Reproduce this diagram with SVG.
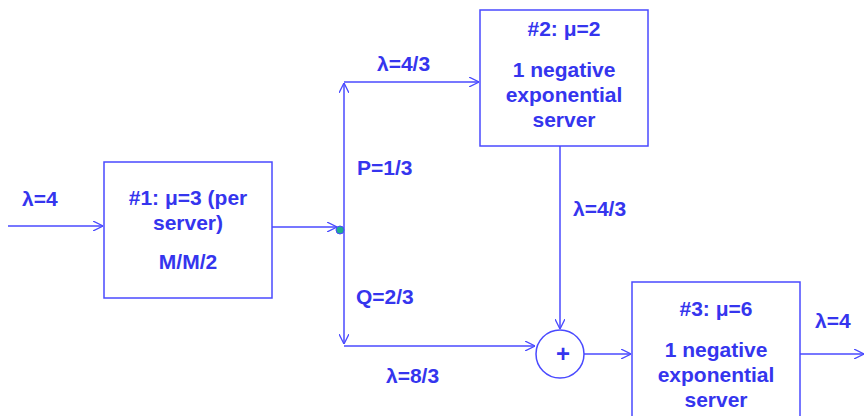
<svg xmlns="http://www.w3.org/2000/svg" width="864" height="416" viewBox="0 0 864 416">
<style>
text{font-family:"Liberation Sans",Arial,sans-serif;font-weight:bold;font-size:21px;fill:#3535ee;text-anchor:middle}
.l{text-anchor:start}
.box{fill:none;stroke:#4a4aff;stroke-width:1.5}
.c{fill:none;stroke:#4a4aff;stroke-width:1.5}
</style>
<defs>
<marker id="a" viewBox="0 0 10 10" refX="10" refY="5" markerWidth="10" markerHeight="10" markerUnits="userSpaceOnUse" orient="auto">
<path d="M0,0 L10,5 L0,10" fill="none" stroke="#4a4aff" stroke-width="1.3"/>
</marker>
</defs>
<rect width="864" height="416" fill="#fff"/>
<g id="connectors">
<line class="c" x1="8" y1="226" x2="103" y2="226" marker-end="url(#a)"/>
<line class="c" x1="272" y1="227" x2="337" y2="227" marker-end="url(#a)"/>
<line class="c" x1="344" y1="230" x2="344" y2="83" marker-end="url(#a)"/>
<line class="c" x1="344" y1="82" x2="479" y2="82" marker-end="url(#a)"/>
<line class="c" x1="344" y1="230" x2="344" y2="344" marker-end="url(#a)"/>
<line class="c" x1="344" y1="346" x2="535" y2="346" marker-end="url(#a)"/>
<line class="c" x1="560" y1="146" x2="560" y2="329" marker-end="url(#a)"/>
<line class="c" x1="584" y1="354" x2="631" y2="354" marker-end="url(#a)"/>
<line class="c" x1="800" y1="354" x2="864" y2="354" marker-end="url(#a)"/>
<circle cx="340" cy="230" r="4" fill="#1fae8f" stroke="#4a4aff" stroke-width="1"/>
</g>
<g id="labels">
<text class="l" x="22" y="206">λ=4</text>
<text class="l" x="377" y="71">λ=4/3</text>
<text class="l" x="357" y="175">P=1/3</text>
<text class="l" x="573" y="216">λ=4/3</text>
<text class="l" x="356" y="304">Q=2/3</text>
<text class="l" x="386" y="383">λ=8/3</text>
<text class="l" x="815" y="328">λ=4</text>
</g>
<g id="node1">
<rect class="box" x="104" y="162" width="168" height="136"/>
<text x="188" y="205">#1: μ=3 (per</text>
<text x="188" y="230">server)</text>
<text x="188" y="269">M/M/2</text>
</g>
<g id="node2">
<rect class="box" x="480" y="10" width="168" height="136"/>
<text x="564" y="36">#2: μ=2</text>
<text x="564" y="77">1 negative</text>
<text x="564" y="102">exponential</text>
<text x="564" y="127">server</text>
</g>
<g id="sum">
<circle class="box" cx="560" cy="354" r="24"/>
<text x="563" y="362" style="font-size:24px">+</text>
</g>
<g id="node3">
<rect class="box" x="632" y="282" width="168" height="150"/>
<text x="716" y="316">#3: μ=6</text>
<text x="716" y="357">1 negative</text>
<text x="716" y="382">exponential</text>
<text x="716" y="407">server</text>
</g>
</svg>
